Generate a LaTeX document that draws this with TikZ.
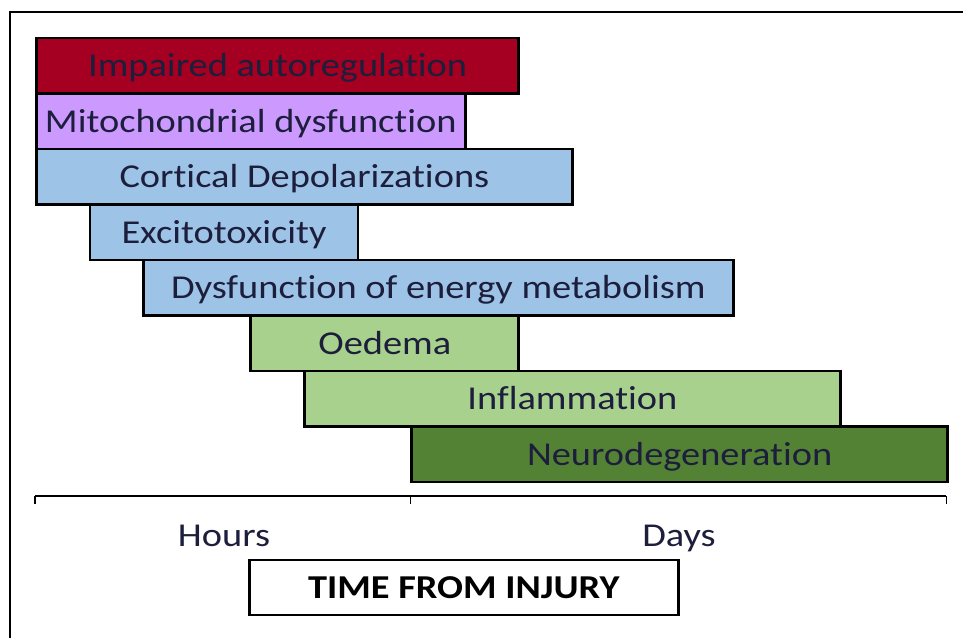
\documentclass[tikz,border=0pt]{standalone}
\usepackage{fontspec}
\setmainfont{Carlito}[FakeStretch=1.15, Ligatures=NoCommon]
\usepackage{tikz}
\usetikzlibrary{positioning}

\definecolor{autoreg}{HTML}{A50021}
\definecolor{mito}{HTML}{CC99FF}
\definecolor{ionblue}{HTML}{9DC3E6}
\definecolor{lategreen}{HTML}{A9D18E}
\definecolor{degengreen}{HTML}{548235}
\definecolor{labeltext}{HTML}{1C1E3C}

\begin{document}
\begin{tikzpicture}[
    bar/.style={draw, line width=1.6pt, anchor=west, minimum height=1.11cm,
               inner sep=0pt, text height=0.44cm, text depth=0pt,
               text=labeltext, font=\fontsize{19}{22}\selectfont},
    axislabel/.style={anchor=base, text=labeltext, font=\fontsize{19}{22}\selectfont},
    titlebox/.style={draw, line width=1.6pt, minimum width=8.576cm, minimum height=1.1cm,
                    inner sep=0pt, text height=0.44cm, text depth=0pt,
                    font=\bfseries\fontsize{19}{22}\selectfont},
]
  \useasboundingbox (0,0) rectangle (19.26,-12.76);
  % outer frame, cut off at the right and bottom
  \draw[line width=1.6pt] (0.2,-12.76) |- (19.26,-0.24);

  % one bar per process, on a grid of 1.072cm
  \node[bar, fill=autoreg, minimum width=9.648cm] (autoreg) at (0.70,-1.315) {Impaired autoregulation};
  \node[bar, fill=mito, minimum width=8.576cm] (mito) at (0.70,-2.425) {Mitochondrial dysfunction};
  \node[bar, fill=ionblue, minimum width=10.72cm] (depol) at (0.70,-3.535) {Cortical Depolarizations};
  \node[bar, fill=ionblue, minimum width=5.36cm] (excito) at (1.772,-4.645) {Excitotoxicity};
  \node[bar, fill=ionblue, minimum width=11.792cm] (energy) at (2.844,-5.755) {Dysfunction of energy metabolism};
  \node[bar, fill=lategreen, minimum width=5.36cm] (oedema) at (4.988,-6.865) {Oedema};
  \node[bar, fill=lategreen, minimum width=10.72cm] (inflam) at (6.06,-7.975) {Inflammation};
  \node[bar, fill=degengreen, minimum width=10.72cm] (neuro) at (8.204,-9.085) {Neurodegeneration};

  % time axis
  \coordinate (t0) at (0.70,-9.92);
  \coordinate (t1) at (8.204,-9.92);
  \coordinate (t2) at (18.924,-9.92);
  \draw[line width=1.6pt] (t0) -- (t2);
  \foreach \t in {t0,t1,t2}
    \draw[line width=0.6pt] (\t) -- ++(0,-0.16);

  \node[axislabel] (hours) at (4.48,-10.92) {Hours};
  \node[axislabel] (days) at (13.58,-10.92) {Days};
  \node[titlebox] (time) at (9.276,-11.75) {TIME FROM INJURY};
\end{tikzpicture}
\end{document}
